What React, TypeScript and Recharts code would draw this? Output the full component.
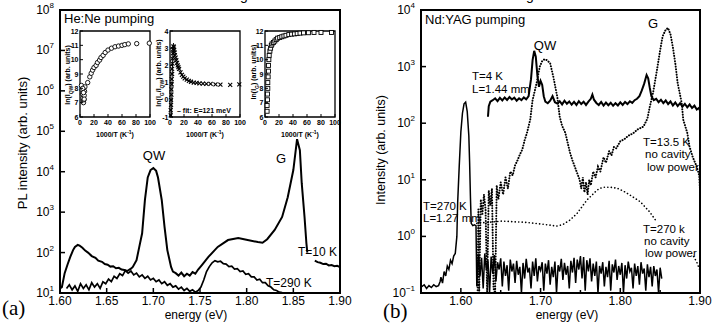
import React from 'react';
import { ComposedChart, Line, Scatter, XAxis, YAxis, ReferenceArea } from 'recharts';

type Pt = [number, number | null];

const FONT = '"Liberation Sans", Arial, Helvetica, sans-serif';
const SERIF = '"Liberation Serif", "Times New Roman", serif';

// ---------- panel (a): He:Ne pumping ----------
const aTicksX = [1.6, 1.65, 1.7, 1.75, 1.8, 1.85, 1.9];
const aTicksY = [1e1, 1e2, 1e3, 1e4, 1e5, 1e6, 1e7, 1e8];

const pl10K: Pt[] = [
  [1.6, 13], [1.602, 14], [1.605, 31], [1.608, 50], [1.611, 78], [1.614, 115], [1.616, 138],
  [1.619, 155], [1.621, 148], [1.624, 132], [1.627, 112], [1.63, 100], [1.634, 82], [1.638, 74],
  [1.641, 63], [1.645, 59], [1.648, 52], [1.651, 50], [1.654, 45], [1.657, 46], [1.66, 41],
  [1.663, 42], [1.666, 38], [1.669, 37], [1.672, 35], [1.676, 40], [1.678, 44], [1.682, 65],
  [1.685, 140], [1.688, 300], [1.691, 2000], [1.694, 7200], [1.697, 11000], [1.7, 12300],
  [1.703, 10500], [1.705, 7200], [1.709, 2000], [1.712, 430], [1.715, 115], [1.719, 44],
  [1.721, 34], [1.724, 31], [1.727, 27], [1.73, 32], [1.733, 26], [1.736, 30], [1.739, 27],
  [1.742, 33], [1.745, 30], [1.748, 38], [1.752, 49], [1.759, 78], [1.769, 138], [1.78, 204],
  [1.791, 229], [1.801, 204], [1.812, 182], [1.817, 175], [1.822, 214], [1.83, 363],
  [1.838, 760], [1.844, 2340], [1.85, 11000], [1.854, 64000], [1.857, 34000], [1.859, 5200],
  [1.862, 760], [1.864, 170], [1.865, 100], [1.869, null], [1.873, 63], [1.876, 58],
  [1.879, 56], [1.882, 52], [1.885, 53], [1.888, 48], [1.891, 49], [1.894, 46], [1.897, 47],
  [1.9, 44],
];

const pl290K: Pt[] = [
  [1.607, 13], [1.61, 16], [1.613, 12], [1.616, 15], [1.619, 11], [1.622, 17], [1.625, 13],
  [1.628, 16], [1.631, 12], [1.634, 18], [1.637, 14], [1.64, 17], [1.643, 13], [1.646, 19],
  [1.649, 17], [1.652, 22], [1.655, 19], [1.658, 26], [1.661, 23], [1.664, 30], [1.667, 27],
  [1.67, 36], [1.673, 31], [1.676, 35], [1.679, 28], [1.682, 31], [1.685, 25], [1.688, 28],
  [1.691, 23], [1.694, 26], [1.697, 21], [1.7, 23], [1.703, 19], [1.706, 21], [1.709, 17],
  [1.712, 19], [1.715, 15.5], [1.718, 17], [1.721, 14], [1.724, 15], [1.727, 12.5], [1.73, 14],
  [1.733, 11.5], [1.736, 13], [1.739, 11], [1.742, 12], [1.745, 10.5], [1.748, 11.5],
  [1.751, 14], [1.754, 21], [1.757, 34], [1.76, 45], [1.763, 56], [1.766, 63], [1.769, 59],
  [1.772, 61], [1.775, 53], [1.778, 52], [1.781, 45], [1.784, 46], [1.787, 39], [1.79, 40],
  [1.793, 34], [1.796, 35], [1.799, 29], [1.802, 30], [1.805, 25], [1.808, 25], [1.811, 21],
  [1.814, 22], [1.817, 18], [1.82, 18], [1.823, 15], [1.826, 14], [1.829, 12], [1.832, 11.5],
  [1.835, 10.5], [1.838, 10.2],
];

// ---------- insets of panel (a) ----------
const insetTicksX = [0, 20, 40, 60, 80, 100];
const lnTicks = [6, 7, 8, 9, 10, 11, 12];
const ratioTicks = [-1, 0, 1, 2, 3, 4];

const lnIqw: [number, number][] = [
  [2, 8.2], [3, 7.9], [3.5, 7.6], [4, 7.3], [4.5, 7.1], [5, 7.0], [5.5, 7.2], [6, 7.5],
  [6.5, 7.8], [7, 8.1], [4, 8.0], [5, 7.7], [6, 7.25], [11, 8.4], [14, 8.8], [16, 9.05],
  [18, 9.27], [20, 9.45], [23, 9.6], [25, 9.8], [28, 9.97], [30, 10.15], [33, 10.3], [36, 10.5],
  [40, 10.67], [45, 10.8], [50, 10.9], [55, 10.95], [60, 11.0], [64, 11.05], [69, 11.1],
  [81, 11.12], [99, 11.15],
];

const lnRatio: [number, number][] = [
  [1, -0.9], [1, -0.6], [1.5, -0.3], [1.5, 0], [2, 0.3], [2, 0.6], [2.5, 0.9], [2.5, 1.2],
  [3, 1.5], [3, 1.8], [3.5, 2.1], [3.5, 2.4], [4, 2.7], [4.5, 2.95], [5, 3.1], [5.5, 3.05],
  [6, 2.9], [6.5, 2.75], [7, 2.6], [8, 2.45], [9, 2.3], [10, 2.15], [11, 2.0], [12, 1.9],
  [13, 1.8], [15, 1.6], [17, 1.45], [19, 1.35], [21, 1.25], [24, 1.17], [27, 1.1], [30, 1.05],
  [34, 1.0], [38, 0.98], [42, 0.96], [47, 0.94], [52, 0.93], [58, 0.92], [65, 0.9],
  [72, 0.88], [86, 0.87], [99, 0.9],
];
const ratioFit: [number, number][] = [[2.2, -1], [3, 1.2], [4, 2.6], [5, 3.3]];

const lnIg: [number, number][] = [
  [3, 6.4], [3, 6.8], [3.5, 7.2], [3.5, 7.6], [4, 8.0], [4, 8.4], [4.5, 8.8], [5, 9.2],
  [5, 9.6], [5.5, 10.0], [6, 10.3], [7, 10.6], [8, 10.8], [9, 11.0], [10, 11.1], [12, 11.2],
  [14, 11.3], [16, 11.4], [18, 11.5], [21, 11.55], [24, 11.6], [27, 11.65], [30, 11.7],
  [34, 11.75], [38, 11.78], [42, 11.8], [46, 11.82], [50, 11.85], [55, 11.87], [62, 11.88],
  [70, 11.9], [80, 11.9], [95, 11.9],
];

// ---------- panel (b): Nd:YAG pumping ----------
const bTicksX = [1.55, 1.6, 1.65, 1.7, 1.75, 1.8, 1.85, 1.9];
const bLabelsX = [1.6, 1.7, 1.8, 1.9];
const bTicksY = [0.1, 1, 10, 100, 1000, 10000];

const yag4K: Pt[] = [
  [1.634, 130], [1.635, 200], [1.637, 240], [1.64, 255], [1.643, 275], [1.646, 245],
  [1.649, 280], [1.652, 252], [1.655, 285], [1.658, 258], [1.661, 290], [1.664, 262],
  [1.667, 282], [1.67, 250], [1.673, 276], [1.676, 256], [1.679, 286], [1.682, 265],
  [1.685, 300], [1.688, 600], [1.69, 1300], [1.692, 1900], [1.694, 1500], [1.696, 700],
  [1.698, 440], [1.7, 560], [1.702, 480], [1.704, 300], [1.706, 240], [1.709, 225],
  [1.712, 250], [1.715, 300], [1.718, 235], [1.721, 222], [1.724, 245], [1.727, 215],
  [1.73, 250], [1.733, 220], [1.736, 242], [1.739, 212], [1.742, 238], [1.745, 210],
  [1.748, 245], [1.751, 218], [1.754, 240], [1.757, 210], [1.76, 240], [1.763, 270],
  [1.765, 320], [1.767, 260], [1.77, 228], [1.773, 210], [1.776, 238], [1.779, 205],
  [1.782, 232], [1.785, 208], [1.788, 230], [1.791, 203], [1.794, 226], [1.797, 206],
  [1.8, 234], [1.803, 210], [1.806, 238], [1.809, 218], [1.812, 244], [1.815, 228],
  [1.818, 255], [1.821, 270], [1.824, 300], [1.827, 380], [1.83, 500], [1.833, 710],
  [1.835, 620], [1.837, 420], [1.839, 300], [1.842, 255], [1.845, 270], [1.848, 235],
  [1.851, 260], [1.854, 226], [1.857, 252], [1.86, 218], [1.863, 242], [1.866, 206],
  [1.869, 232], [1.872, 200], [1.875, 226], [1.878, 196], [1.881, 220], [1.884, 190],
  [1.887, 214], [1.89, 186], [1.893, 204], [1.896, 175], [1.899, 188], [1.9, 165],
];

const yag13K: Pt[] = [
  [1.621, 0.1], [1.622, 3], [1.623, 0.1], [1.625, 4.5], [1.627, 2.5], [1.629, 5.5],
  [1.631, 3], [1.633, 0.1], [1.635, 6.5], [1.637, 3.5], [1.639, 7], [1.641, 0.12],
  [1.643, 0.1], [1.645, 8], [1.647, 4.5], [1.65, 9], [1.653, 5.5], [1.656, 11], [1.659, 7],
  [1.662, 14], [1.665, 12], [1.668, 18], [1.671, 22], [1.674, 28], [1.677, 34], [1.68, 50],
  [1.683, 68], [1.687, 115], [1.69, 257], [1.695, 510], [1.699, 1000], [1.702, 1250],
  [1.705, 1350], [1.708, 1300], [1.712, 1150], [1.716, 660], [1.721, 290], [1.724, 130],
  [1.727, 90], [1.731, 68], [1.734, 45], [1.737, 30], [1.74, 22], [1.743, 17], [1.746, 13],
  [1.749, 10], [1.751, 7], [1.753, 11], [1.755, 6], [1.757, 9], [1.759, 5.5], [1.761, 10],
  [1.763, 8], [1.766, 14], [1.769, 11], [1.772, 17], [1.775, 14], [1.779, 25], [1.782, 20],
  [1.786, 32], [1.789, 27], [1.792, 38], [1.795, 36], [1.8, 48], [1.805, 52], [1.81, 60],
  [1.816, 66], [1.822, 78], [1.829, 87], [1.834, 120], [1.837, 195], [1.841, 340],
  [1.846, 870], [1.85, 1950], [1.853, 3400], [1.857, 4500], [1.86, 4800], [1.863, 3700],
  [1.866, 2200], [1.869, 1150], [1.872, 510], [1.877, 230], [1.879, 115], [1.884, 68],
  [1.887, 38], [1.891, 25], [1.896, 17], [1.899, 12], [1.9, 6.6],
];

const yag270K: Pt[] = [
  [1.551, 0.13], [1.554, 0.14], [1.557, 0.12], [1.56, 0.135], [1.563, 0.125], [1.566, 0.14],
  [1.569, 0.13], [1.572, 0.135], [1.574, 0.16], [1.575, 0.19], [1.577, 0.15], [1.579, 0.24],
  [1.581, 0.2], [1.583, 0.3], [1.585, 0.26], [1.587, 0.38], [1.589, 0.33], [1.591, 0.45],
  [1.593, 0.5], [1.595, 1.0], [1.596, 4], [1.598, 18], [1.6, 70], [1.602, 150], [1.604, 220],
  [1.606, 235], [1.608, 160], [1.61, 60], [1.611, 20], [1.612, 5], [1.613, 1.7], [1.615, 1.55],
  [1.617, 1.6], [1.619, 1.55], [1.62, 0.13],
  [1.622, 0.48], [1.624, 0.2], [1.626, 0.42], [1.628, 0.12], [1.63, 0.5], [1.632, 0.25],
  [1.634, 0.38], [1.636, 0.1], [1.638, 0.44], [1.64, 0.22], [1.642, 0.47], [1.644, 0.16],
  [1.646, 0.35], [1.648, 0.26], [1.65, 0.41], [1.652, 0.13], [1.654, 0.36], [1.656, 0.2],
  [1.658, 0.31], [1.66, 0.11], [1.662, 0.39], [1.664, 0.24], [1.666, 0.33], [1.668, 0.15],
  [1.67, 0.37], [1.672, 0.21], [1.674, 0.29], [1.676, 0.1], [1.678, 0.34], [1.68, 0.18],
  [1.682, 0.4], [1.684, 0.23], [1.686, 0.28], [1.688, 0.12], [1.69, 0.36], [1.692, 0.2],
  [1.694, 0.41], [1.696, 0.16], [1.698, 0.3], [1.7, 0.25], [1.702, 0.35], [1.704, 0.11],
  [1.706, 0.33], [1.708, 0.22], [1.71, 0.38], [1.712, 0.14], [1.714, 0.29], [1.716, 0.19],
  [1.718, 0.36], [1.72, 0.1], [1.722, 0.31], [1.724, 0.24], [1.726, 0.4], [1.728, 0.17],
  [1.73, 0.34], [1.732, 0.21], [1.734, 0.3], [1.736, 0.12], [1.738, 0.37], [1.74, 0.23],
  [1.742, 0.42], [1.744, 0.15], [1.746, 0.39], [1.748, 0.26], [1.75, 0.45], [1.752, 0.18],
  [1.754, 0.43], [1.756, 0.11], [1.758, 0.38], [1.76, 0.24], [1.762, 0.41], [1.764, 0.16],
  [1.766, 0.33], [1.768, 0.2], [1.77, 0.36], [1.772, 0.1], [1.774, 0.3], [1.776, 0.22],
  [1.778, 0.35], [1.78, 0.13], [1.782, 0.29], [1.784, 0.19], [1.786, 0.37], [1.788, 0.11],
  [1.79, 0.32], [1.792, 0.23], [1.794, 0.39], [1.796, 0.17], [1.798, 0.3], [1.8, 0.21],
  [1.802, 0.34], [1.804, 0.1], [1.806, 0.31], [1.808, 0.18], [1.81, 0.36], [1.812, 0.24],
  [1.814, 0.28], [1.816, 0.12], [1.818, 0.33], [1.82, 0.2], [1.822, 0.3], [1.824, 0.14],
  [1.826, 0.35], [1.828, 0.22], [1.83, 0.27], [1.832, 0.11], [1.834, 0.32], [1.836, 0.19],
  [1.838, 0.29], [1.84, 0.13], [1.842, 0.3], [1.844, 0.2], [1.846, 0.26], [1.848, 0.1],
  [1.85, 0.28], [1.852, 0.18],
];

const yag270Knc: Pt[] = [
  [1.62, 1.7], [1.63, 1.76], [1.64, 1.8], [1.65, 1.86], [1.66, 1.84], [1.67, 1.8],
  [1.68, 1.78], [1.69, 1.72], [1.7, 1.66], [1.712, 1.58], [1.72, 1.52], [1.728, 1.62],
  [1.737, 1.95], [1.746, 2.57], [1.758, 4.37], [1.771, 6.6], [1.778, 7.4], [1.787, 7.4],
  [1.796, 7.1], [1.804, 6.3], [1.812, 5.4], [1.825, 4.1], [1.837, 2.7], [1.846, 1.78],
  [1.86, null], [1.892, 0.44], [1.896, 0.35], [1.9, 0.25],
];

const rows = (pts: Pt[]) => pts.map(([e, i]) => ({ e, i }));
const xy = (pts: [number, number][]) => pts.map(([x, y]) => ({ x, y }));

const supExp = (v: number) => {
  const n = Math.round(Math.log10(v));
  return n < 0 ? '\u2212' + -n : String(n);
};

const PowTick = (p: any) => (
  <g>
    <line x1={p.x} x2={p.x + 5} y1={p.y} y2={p.y} stroke="#000" strokeWidth={1.5} />
    <text x={p.x - 6} y={p.y + 4} textAnchor="end" fontSize={12} fontFamily={FONT} fill="#000">
      10<tspan dy={-6} fontSize={8}>{supExp(p.payload.value)}</tspan>
    </text>
  </g>
);

const energyTick = (labels: number[]) => (p: any) => {
  const major = labels.some((v) => Math.abs(v - p.payload.value) < 1e-6);
  return (
    <g>
      <line x1={p.x} x2={p.x} y1={p.y} y2={p.y - (major ? 5 : 3)} stroke="#000" strokeWidth={1.5} />
      {major && (
        <text x={p.x} y={p.y + 12} textAnchor="middle" fontSize={12} fontFamily={FONT} fill="#000">
          {p.payload.value.toFixed(2)}
        </text>
      )}
    </g>
  );
};

const InsetYTick = (p: any) => (
  <g>
    <line x1={p.x} x2={p.x + 3} y1={p.y} y2={p.y} stroke="#000" strokeWidth={1} />
    <text x={p.x - 1.5} y={p.y + 2.5} textAnchor="end" fontSize={7} fontWeight="bold" fontFamily={FONT} fill="#000">
      {p.payload.value}
    </text>
  </g>
);

const InsetXTick = (p: any) => (
  <g>
    <line x1={p.x} x2={p.x} y1={p.y} y2={p.y - 3} stroke="#000" strokeWidth={1} />
    <text x={p.x} y={p.y + 8} textAnchor="middle" fontSize={7} fontWeight="bold" fontFamily={FONT} fill="#000">
      {p.payload.value}
    </text>
  </g>
);

const Circle = (p: any) => <circle cx={p.cx} cy={p.cy} r={2.2} fill="#fff" stroke="#000" strokeWidth={0.9} />;
const Square = (p: any) => (
  <rect x={p.cx - 2} y={p.cy - 2} width={4} height={4} fill="#fff" stroke="#000" strokeWidth={0.9} />
);
const Cross = (p: any) => (
  <path
    d={`M${p.cx - 2},${p.cy - 2}L${p.cx + 2},${p.cy + 2}M${p.cx - 2},${p.cy + 2}L${p.cx + 2},${p.cy - 2}`}
    stroke="#000"
    strokeWidth={1.1}
  />
);

const dotted = { strokeDasharray: '0.1 2.6', strokeLinecap: 'round' as const };

const inset = (left: number, lo: number, hi: number, ticks: number[], series: React.ReactNode) => (
  <div style={{ position: 'absolute', left: left - 30, top: 26 }}>
    <ComposedChart width={112} height={105} margin={{ top: 5, right: 12, bottom: 0, left: 0 }}>
      <XAxis dataKey="x" type="number" domain={[0, 100]} ticks={insetTicksX} interval={0} height={14}
        axisLine={false} tickLine={false} tickSize={0} tickMargin={0} tick={InsetXTick} />
      <YAxis dataKey="y" type="number" domain={[lo, hi]} ticks={ticks} interval={0} width={30}
        axisLine={false} tickLine={false} tickSize={0} tickMargin={0} tick={InsetYTick} />
      <ReferenceArea x1={0} x2={100} y1={lo} y2={hi} fill="#fff" fillOpacity={1} stroke="#000" strokeWidth={1.3} />
      {series}
    </ComposedChart>
  </div>
);

const PanelA = () => (
  <ComposedChart width={356} height={326} margin={{ top: 10, right: 16, bottom: 3, left: 10 }}>
    <XAxis dataKey="e" type="number" domain={[1.6, 1.9]} ticks={aTicksX} interval={0} height={30}
      allowDataOverflow axisLine={false} tickLine={false} tickSize={0} tickMargin={0} tick={energyTick(aTicksX)} />
    <YAxis type="number" scale="log" domain={[10, 1e8]} ticks={aTicksY} interval={0} width={50}
      allowDataOverflow axisLine={false} tickLine={false} tickSize={0} tickMargin={0} tick={PowTick} />
    <Line data={rows(pl290K)} dataKey="i" type="linear" dot={false} stroke="#000" strokeWidth={1.7} isAnimationActive={false} />
    <Line data={rows(pl10K)} dataKey="i" type="linear" dot={false} stroke="#000" strokeWidth={2} isAnimationActive={false} />
    <ReferenceArea x1={1.6} x2={1.9} y1={10} y2={1e8} fill="none" stroke="#000" strokeWidth={2} />
  </ComposedChart>
);

const PanelB = () => (
  <ComposedChart width={356} height={326} margin={{ top: 10, right: 12, bottom: 3, left: 10 }}>
    <XAxis dataKey="e" type="number" domain={[1.55, 1.9]} ticks={bTicksX} interval={0} height={30}
      allowDataOverflow axisLine={false} tickLine={false} tickSize={0} tickMargin={0} tick={energyTick(bLabelsX)} />
    <YAxis type="number" scale="log" domain={[0.1, 1e4]} ticks={bTicksY} interval={0} width={55}
      allowDataOverflow axisLine={false} tickLine={false} tickSize={0} tickMargin={0} tick={PowTick} />
    <Line data={rows(yag270K)} dataKey="i" type="linear" dot={false} stroke="#000" strokeWidth={1.5} isAnimationActive={false} />
    <Line data={rows(yag270Knc)} dataKey="i" type="linear" dot={false} stroke="#000" strokeWidth={1.6}
      strokeDasharray="0.1 3.4" strokeLinecap="round" isAnimationActive={false} />
    <Line data={rows(yag13K)} dataKey="i" type="linear" dot={false} stroke="#000" strokeWidth={2} {...dotted} isAnimationActive={false} />
    <Line data={rows(yag4K)} dataKey="i" type="linear" dot={false} stroke="#000" strokeWidth={2} isAnimationActive={false} />
    <ReferenceArea x1={1.55} x2={1.9} y1={0.1} y2={1e4} fill="none" stroke="#000" strokeWidth={2} />
  </ComposedChart>
);

const T = (p: { x: number; y: number; s?: number; a?: 'start' | 'middle' | 'end'; children: React.ReactNode }) => (
  <text x={p.x} y={p.y} fontSize={p.s ?? 12} textAnchor={p.a ?? 'start'} fontFamily={FONT} fill="#000">
    {p.children}
  </text>
);

const Sub = ({ children }: { children: React.ReactNode }) => (
  <tspan baselineShift="sub" fontSize={5}>{children}</tspan>
);

const Overlay = () => (
  <svg width={712} height={326} style={{ position: 'absolute', left: 0, top: 0, pointerEvents: 'none' }}>
    {/* caption descenders cut at the top */}
    <text x={240} y={0} fontSize={14} fontFamily={FONT}>g</text>
    <text x={526} y={0} fontSize={14} fontFamily={FONT}>g</text>

    {/* panel (a) */}
    <T x={64} y={23} s={13}>He:Ne pumping</T>
    <T x={154} y={160} s={13} a="middle">QW</T>
    <T x={281} y={163} s={13} a="middle">G</T>
    <T x={298} y={256}>T=10 K</T>
    <T x={266} y={287}>T=290 K</T>
    <text x={27} y={143} transform="rotate(-90 27 143)" textAnchor="middle" fontSize={13} fontFamily={FONT}>
      PL intensity (arb. units)
    </text>
    <T x={196} y={319} a="middle">energy (eV)</T>
    <text x={2} y={315} fontSize={21} fontFamily={SERIF}>(a)</text>

    {/* inset labels */}
    {[115, 205, 300].map((cx) => (
      <text key={cx} x={cx} y={137} textAnchor="middle" fontSize={7} fontWeight="bold" fontFamily={FONT}>
        1000/T (K<tspan dy={-3} fontSize={5}>-1</tspan><tspan dy={3}>)</tspan>
      </text>
    ))}
    <text x={70} y={75} transform="rotate(-90 70 75)" textAnchor="middle" fontSize={7} fontWeight="bold" fontFamily={FONT}>
      ln(I<Sub>QW</Sub>) (arb. units)
    </text>
    <text x={161} y={73} transform="rotate(-90 161 73)" textAnchor="middle" fontSize={7} fontWeight="bold" fontFamily={FONT}>
      ln(I<Sub>G</Sub>/I<Sub>QW</Sub>) (arb. units)
    </text>
    <text x={256} y={72} transform="rotate(-90 256 72)" textAnchor="middle" fontSize={7} fontWeight="bold" fontFamily={FONT}>
      ln(I<Sub>G</Sub>) (arb. units)
    </text>
    <text x={177} y={113} fontSize={7} fontWeight="bold" fontFamily={FONT}>– fit: E=121 meV</text>

    {/* panel (b) */}
    <T x={425} y={24} s={13}>Nd:YAG pumping</T>
    <T x={545} y={50} s={13} a="middle">QW</T>
    <T x={653} y={28} s={13} a="middle">G</T>
    <T x={472} y={80} s={11.5}>T=4 K</T>
    <T x={472} y={93} s={11.5}>L=1.44 mm</T>
    <T x={643} y={146} s={11.5}>T=13.5 K</T>
    <T x={645} y={158} s={11.5}>no cavity</T>
    <T x={647} y={171} s={11.5}>low power</T>
    <T x={423} y={210} s={11.5}>T=270 K</T>
    <T x={423} y={222} s={11.5}>L=1.27 mm</T>
    <T x={643} y={233} s={11.5}>T=270 k</T>
    <T x={644} y={245} s={11.5}>no cavity</T>
    <T x={645} y={257} s={11.5}>low power</T>
    <text x={385} y={150} transform="rotate(-90 385 150)" textAnchor="middle" fontSize={12.5} fontFamily={FONT}>
      Intensity (arb. units)
    </text>
    <T x={567} y={319} a="middle">energy (eV)</T>
    <text x={383} y={318} fontSize={21} fontFamily={SERIF}>(b)</text>
  </svg>
);

export default function App() {
  return (
    <div style={{ position: 'absolute', left: 0, top: 0, width: 712, height: 326, background: '#fff', overflow: 'hidden' }}>
      <div style={{ position: 'absolute', left: 0, top: 0 }}>
        <PanelA />
      </div>
      <div style={{ position: 'absolute', left: 356, top: 0 }}>
        <PanelB />
      </div>
      {inset(80, 6, 12, lnTicks,
        <Scatter data={xy(lnIqw)} shape={Circle} isAnimationActive={false} />)}
      {inset(170, -1, 4, ratioTicks, [
        <Line key="fit" data={xy(ratioFit)} dataKey="y" type="linear" dot={false} stroke="#000" strokeWidth={1} isAnimationActive={false} />,
        <Scatter key="pts" data={xy(lnRatio)} shape={Cross} isAnimationActive={false} />,
      ])}
      {inset(265, 6, 12, lnTicks,
        <Scatter data={xy(lnIg)} shape={Square} isAnimationActive={false} />)}
      <Overlay />
    </div>
  );
}
